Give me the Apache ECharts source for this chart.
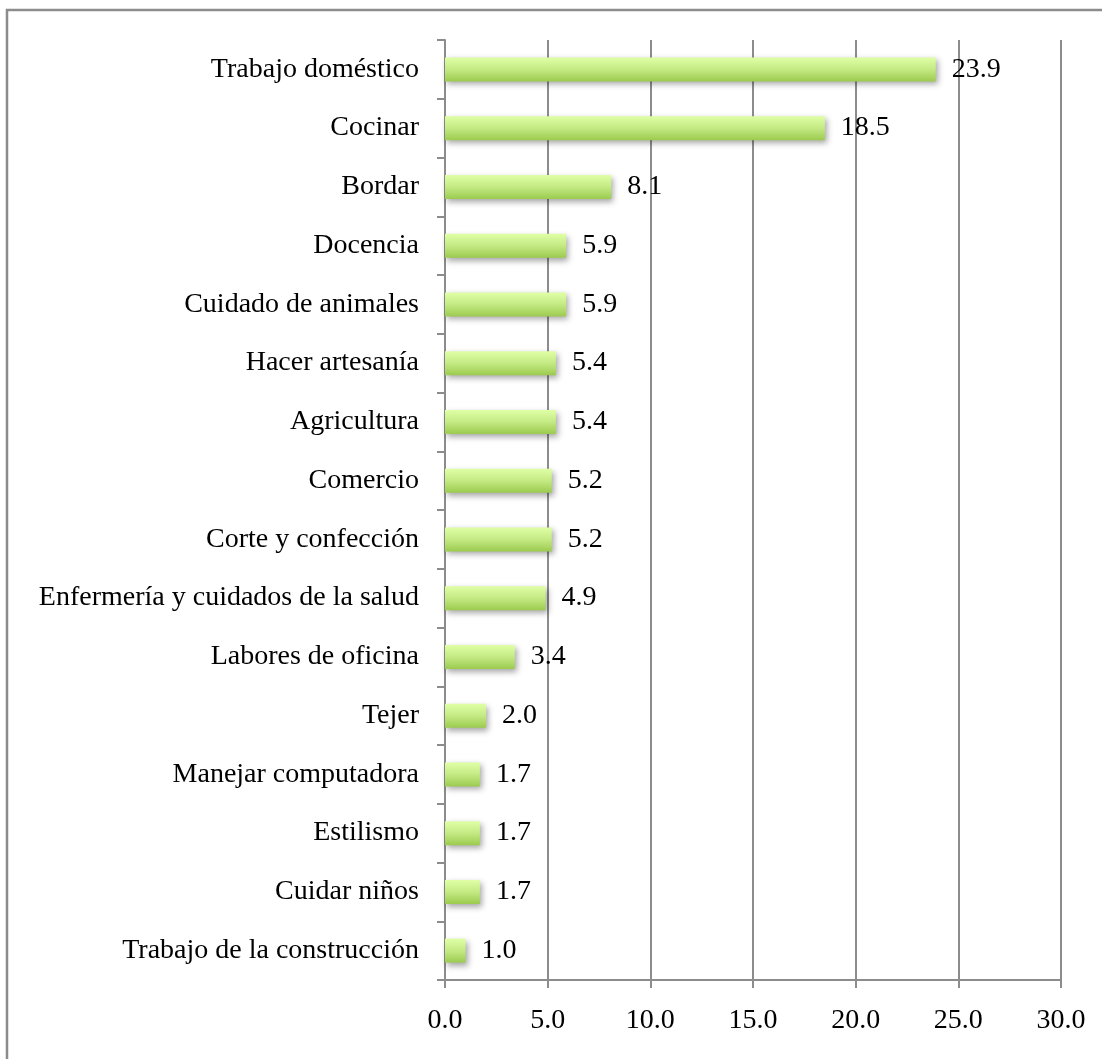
<!DOCTYPE html>
<html>
<head>
<meta charset="utf-8">
<script src="https://cdn.jsdelivr.net/npm/echarts@6/dist/echarts.min.js"></script>
<style>
  html, body { margin: 0; padding: 0; background: #fff; }
  #chart { width: 1102px; height: 1059px; }
</style>
</head>
<body>
<div id="chart"></div>
<script>
// categories top to bottom
const categories = [
  'Trabajo doméstico',
  'Cocinar',
  'Bordar',
  'Docencia',
  'Cuidado de animales',
  'Hacer artesanía',
  'Agricultura',
  'Comercio',
  'Corte y confección',
  'Enfermería y cuidados de la salud',
  'Labores de oficina',
  'Tejer',
  'Manejar computadora',
  'Estilismo',
  'Cuidar niños',
  'Trabajo de la construcción'
];
const values = [23.9, 18.5, 8.1, 5.9, 5.9, 5.4, 5.4, 5.2, 5.2, 4.9, 3.4, 2.0, 1.7, 1.7, 1.7, 1.0];
const xTicks = [0, 5, 10, 15, 20, 25, 30];

const font = 'Liberation Serif';
const chart = echarts.init(document.getElementById('chart'));

const option = {
  backgroundColor: '#fff',
  animation: false,
  graphic: [
    {
      type: 'rect',
      shape: { x: 7, y: 10, width: 1300, height: 1300 },
      style: { fill: 'none', stroke: '#8c8c8c', lineWidth: 2.5 }
    }
  ],
  grid: {
    left: 445,
    right: 41,
    top: 40,
    bottom: 79
  },
  xAxis: {
    type: 'value',
    min: xTicks[0],
    max: xTicks[xTicks.length - 1],
    interval: 5,
    axisLine: { show: true, lineStyle: { color: '#8c8c8c', width: 2 } },
    axisTick: { show: true, length: 8, lineStyle: { color: '#8c8c8c', width: 2 } },
    splitLine: { show: true, lineStyle: { color: '#8c8c8c', width: 2 } },
    axisLabel: {
      color: '#000',
      fontFamily: font,
      fontSize: 28,
      margin: 27,
      formatter: v => v.toFixed(1)
    }
  },
  yAxis: {
    type: 'category',
    inverse: true,
    data: categories,
    axisLine: { show: true, lineStyle: { color: '#8c8c8c', width: 2 } },
    axisTick: { show: true, length: 8, lineStyle: { color: '#8c8c8c', width: 2 } },
    axisLabel: {
      color: '#000',
      fontFamily: font,
      fontSize: 28,
      margin: 26
    }
  },
  series: [
    {
      type: 'bar',
      data: values,
      barWidth: 24,
      itemStyle: {
        color: new echarts.graphic.LinearGradient(0, 0, 0, 1, [
          { offset: 0, color: '#e0ffa6' },
          { offset: 0.5, color: '#c4ea84' },
          { offset: 1, color: '#9ccb4f' }
        ]),
        shadowColor: 'rgba(0,0,0,0.35)',
        shadowBlur: 6,
        shadowOffsetX: 2,
        shadowOffsetY: 3
      },
      label: {
        show: true,
        position: 'right',
        distance: 16,
        color: '#000',
        fontFamily: font,
        fontSize: 28,
        formatter: p => p.value.toFixed(1)
      }
    }
  ]
};

chart.setOption(option);
</script>
</body>
</html>
